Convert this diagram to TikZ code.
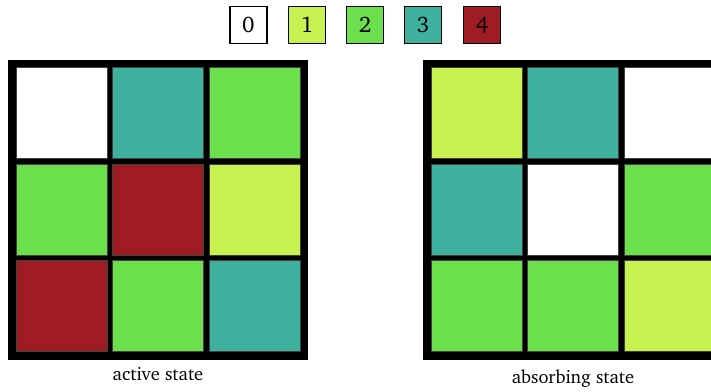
\documentclass[tikz,border=0pt]{standalone}
\usepackage[T1]{fontenc}
\usepackage{charter}
\usepackage{tikz}

\definecolor{c0}{RGB}{255,255,255}
\definecolor{c1}{RGB}{200,242,82}
\definecolor{c2}{RGB}{107,224,76}
\definecolor{c3}{RGB}{62,178,158}
\definecolor{c4}{RGB}{160,28,36}

\begin{document}
\begin{tikzpicture}[x=1pt,y=-1pt,
  key/.style={draw,line width=1.6pt,minimum size=37pt,inner sep=0pt,
    font=\fontsize{22.5}{26}\selectfont},
  board/.style={fill=black,minimum size=300pt,inner sep=0pt,outer sep=0pt},
  cell/.style={draw=black!75,line width=0.6pt,minimum size=91pt,inner sep=0pt,outer sep=0pt},
  caption/.style={anchor=base,font=\fontsize{18.5}{22}\selectfont}]
  \clip (0,0) rectangle (711,391);
  \useasboundingbox (0,0) rectangle (711,391);

  % legend
  \node[key,fill=c0] (k0) at (248.5,25) {0};
  \node[key,fill=c1] (k1) at (307,25) {1};
  \node[key,fill=c2] (k2) at (365,25) {2};
  \node[key,fill=c3] (k3) at (423,25) {3};
  \node[key,fill=c4] (k4) at (482,25) {4};

  % active state
  \node[board] (A) at (158,209.5) {};

  \node[cell,fill=c0] (a1) at (61.7,113.2) {};
  \node[cell,fill=c3] (a2) at (158,113.2) {};
  \node[cell,fill=c2] (a3) at (254.3,113.2) {};

  \node[cell,fill=c2] (a4) at (61.7,209.5) {};
  \node[cell,fill=c4] (a5) at (158,209.5) {};
  \node[cell,fill=c1] (a6) at (254.3,209.5) {};

  \node[cell,fill=c4] (a7) at (61.7,305.8) {};
  \node[cell,fill=c2] (a8) at (158,305.8) {};
  \node[cell,fill=c3] (a9) at (254.3,305.8) {};

  \node[caption] (la) at (158,380.5) {active state};

  % absorbing state
  \node[board] (B) at (573,209.5) {};

  \node[cell,fill=c1] (b1) at (476.7,113.2) {};
  \node[cell,fill=c3] (b2) at (573,113.2) {};
  \node[cell,fill=c0] (b3) at (669.3,113.2) {};

  \node[cell,fill=c3] (b4) at (476.7,209.5) {};
  \node[cell,fill=c0] (b5) at (573,209.5) {};
  \node[cell,fill=c2] (b6) at (669.3,209.5) {};

  \node[cell,fill=c2] (b7) at (476.7,305.8) {};
  \node[cell,fill=c2] (b8) at (573,305.8) {};
  \node[cell,fill=c1] (b9) at (669.3,305.8) {};

  \node[caption] (lb) at (573,383) {absorbing state};
\end{tikzpicture}
\end{document}
